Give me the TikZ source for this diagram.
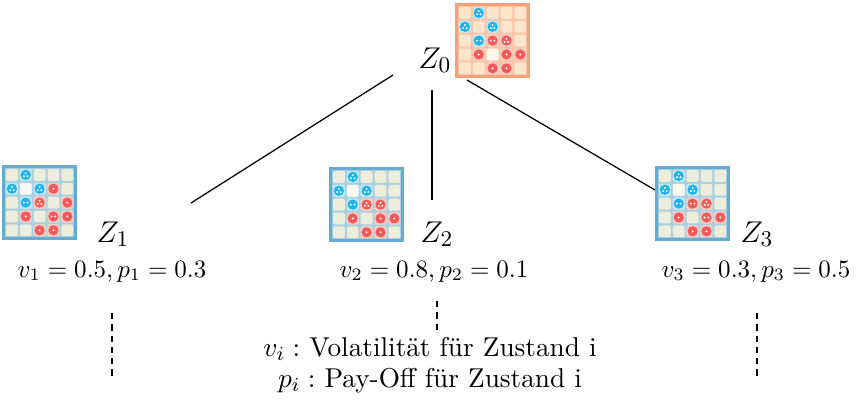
\documentclass[tikz,border=0pt]{standalone}
\usepackage{fontspec}
\definecolor{frameO}{HTML}{F4A07C}
\definecolor{gapO}{HTML}{F8C5A8}
\definecolor{cellO}{HTML}{FDE5CB}
\definecolor{hlO}{HTML}{FFF6EA}
\definecolor{frameB}{HTML}{66AACD}
\definecolor{gapB}{HTML}{A9CEE0}
\definecolor{cellB}{HTML}{EDEDDB}
\definecolor{hlB}{HTML}{F8F8F0}
\definecolor{cellb}{HTML}{BEE7F6}
\definecolor{cellr}{HTML}{F8C9C1}
\definecolor{pcb}{HTML}{1CB4EA}
\definecolor{pcr}{HTML}{F25A5A}
\newcommand\gameboard[7]{%
\begin{scope}[shift={(#1,#2)}]
 \colorlet{cellw}{#6}
 \fill[#3] (0,0) rectangle (75,75);
 \fill[#4] (3.2,3.2) rectangle (71.8,71.8);
 \foreach \r in {0,...,4}{\foreach \c in {0,...,4}{
   \fill[#5,rounded corners=0.6pt] ({4+13.85*\c},{4+13.85*\r}) rectangle ++(11.8,11.8);}}
 \foreach \r/\c/\t/\n in {#7}{
   \fill[cell\t,rounded corners=0.6pt] ({4+13.85*\c},{4+13.85*\r}) rectangle ++(11.8,11.8);
   \ifnum\n>0
   \begin{scope}[shift={({9.9+13.85*\c},{9.9+13.85*\r})}]
    \fill[pc\t] (0,0) circle[radius=5.1];
    \ifcase\n\or
      \fill[white] (0,0) circle[radius=1.1];
    \or
      \fill[white] (-1.9,0) circle[radius=1.1];
      \fill[white] (1.9,0) circle[radius=1.1];
    \or
      \fill[white] (0,-1.8) circle[radius=1.1];
      \fill[white] (-1.7,1.3) circle[radius=1.1];
      \fill[white] (1.7,1.3) circle[radius=1.1];
    \fi
   \end{scope}
   \fi}
\end{scope}}
\tikzset{
 conn/.style={line width=0.5pt, black},
 dashconn/.style={line width=0.8pt, dash pattern=on 2.5pt off 2pt},
 lbl/.style={font=\fontsize{12.9}{15}\selectfont, inner sep=0pt, anchor=base west},
 info/.style={font=\fontsize{10.2}{12}\selectfont, inner sep=0pt, anchor=base},
 legend/.style={font=\fontsize{10.9}{13}\selectfont, inner sep=0pt, anchor=base},
}
\begin{document}
\begin{tikzpicture}[x=0.4pt,y=-0.4pt]
\useasboundingbox (0,0) rectangle (866,402);
% connectors
\coordinate (z0l) at (393,75);  \coordinate (z1e) at (191,203);
\coordinate (z0m) at (432,90);  \coordinate (z2e) at (432,200);
\coordinate (z0r) at (467,80);  \coordinate (z3e) at (655,190);
\draw[conn] (z0l) -- (z1e);
\draw[conn] (z0m) -- (z2e);
\draw[conn] (z0r) -- (z3e);
% boards
\gameboard{455}{3}{frameO}{gapO}{cellO}{hlO}{0/1/b/3,1/0/b/3,1/2/b/3,2/1/b/2,2/2/r/2,2/3/r/3,3/1/r/1,3/2/w/0,3/3/r/1,3/4/r/1,4/2/r/1,4/3/r/1}
\gameboard{2}{165}{frameB}{gapB}{cellB}{hlB}{0/1/b/3,1/0/b/3,1/1/w/0,1/2/b/3,1/3/r/1,2/1/b/2,2/2/r/3,2/4/r/1,3/1/r/1,3/3/r/2,3/4/r/1,4/2/r/1,4/3/r/1}
\gameboard{329}{167}{frameB}{gapB}{cellB}{hlB}{0/1/b/3,1/0/b/3,1/1/w/0,1/2/b/3,2/1/b/2,2/2/r/3,2/3/r/3,3/1/r/1,3/3/r/1,3/4/r/1,4/2/r/1,4/3/r/1}
\gameboard{655}{166}{frameB}{gapB}{cellB}{hlB}{0/1/b/3,1/0/b/3,1/1/w/0,1/2/b/3,2/1/b/2,2/2/r/2,2/3/r/3,3/1/r/1,3/3/r/2,3/4/r/1,4/2/r/1,4/3/r/1}
% labels
\node[lbl] (Z0) at (418,68) {$Z_0$};
\node[lbl] (Z1) at (96,242) {$Z_1$};
\node[lbl] (Z2) at (420,242) {$Z_2$};
\node[lbl] (Z3) at (740,242) {$Z_3$};
\node[info] (v1) at (112,277) {$v_1 = 0.5, p_1 = 0.3$};
\node[info] (v2) at (434,277) {$v_2 = 0.8, p_2 = 0.1$};
\node[info] (v3) at (756,277) {$v_3 = 0.3, p_3 = 0.5$};
% dashed continuations
\coordinate (d1a) at (112,313); \coordinate (d1b) at (112,376);
\coordinate (d2a) at (437,301); \coordinate (d2b) at (437,330);
\coordinate (d3a) at (757,313); \coordinate (d3b) at (757,376);
\draw[dashconn] (d1a) -- (d1b);
\draw[dashconn] (d2a) -- (d2b);
\draw[dashconn] (d3a) -- (d3b);
% legend
\node[legend] (leg1) at (430,356) {$v_i :$ Volatilität für Zustand i};
\node[legend] (leg2) at (430,387) {$p_i :$ Pay-Off für Zustand i};
\end{tikzpicture}
\end{document}
